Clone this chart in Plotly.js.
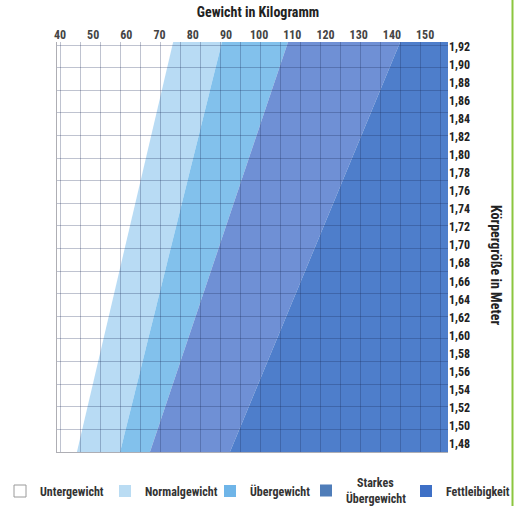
<!DOCTYPE html>
<html>
<head>
<meta charset="utf-8">
<script src="https://cdn.plot.ly/plotly-3.0.1.min.js"></script>
<style>html,body{margin:0;padding:0;background:#fff;}</style>
</head>
<body>
<div id="chart" style="width:515px;height:506px;"></div>
<script>
// ---- Data ----
const kategorien = ["Untergewicht", "Normalgewicht", "Übergewicht", "Starkes Übergewicht", "Fettleibigkeit"];
const legendeText = ["Untergewicht", "Normalgewicht", "Übergewicht", "\u00a0\u00a0\u00a0\u00a0Starkes<br>Übergewicht", "Fettleibigkeit"];
// Körpergröße (m) at the lower and upper edge of the chart
const groesse = [1.471, 1.925];
// Weight (kg) of each band boundary at those two heights
const grenzeLinks = [39.1, 39.1];
const grenzeNormal = [45.1, 74.1];
const grenzeUeber = [58.1, 88.8];
const grenzeStark = [67.1, 108.7];
const grenzeFett = [91.2, 142.5];
const grenzeRechts = [156.9, 156.9];
// tick labels
const gewichtTicks = [40, 50, 60, 70, 80, 90, 100, 110, 120, 130, 140, 150];
const groesseTicks = [1.48, 1.50, 1.52, 1.54, 1.56, 1.58, 1.60, 1.62, 1.64, 1.66, 1.68, 1.70, 1.72, 1.74, 1.76, 1.78, 1.80, 1.82, 1.84, 1.86, 1.88, 1.90, 1.92];

const bandFarben = ["#ffffff", "#b8dbf4", "#82c1ec", "#6f90d5", "#4e7ecb"];
const legendFarben = ["#ffffff", "#badcf3", "#6fb5e8", "#4f7db9", "#3e70c6"];
const grenzen = [grenzeLinks, grenzeNormal, grenzeUeber, grenzeStark, grenzeFett, grenzeRechts];
const legendIds = ["legend", "legend", "legend", "legend2", "legend3"];

const FONT = "'Liberation Sans Narrow', 'Arial Narrow', 'Roboto Condensed', 'Liberation Sans', sans-serif";

const traces = [];
kategorien.forEach((k, i) => {
  const a = grenzen[i], b = grenzen[i + 1];
  traces.push({
    type: "scatter", mode: "lines", fill: "toself",
    x: [a[0], a[1], b[1], b[0], a[0]],
    y: [groesse[0], groesse[1], groesse[1], groesse[0], groesse[0]],
    fillcolor: bandFarben[i], line: {width: 0, color: bandFarben[i]},
    hoverinfo: "skip", showlegend: false, name: k
  });
});
kategorien.forEach((k, i) => {
  traces.push({
    type: "scatter", mode: "markers", x: [null], y: [null],
    xaxis: "x2", yaxis: "y2",
    name: legendeText[i],
    legend: legendIds[i],
    marker: {symbol: "square", size: 12, color: legendFarben[i],
             line: {width: i === 0 ? 1 : 0, color: "#9a9a9a"}},
    showlegend: true
  });
});

const gridFarbe = "rgba(25,40,85,0.28)";
const xr = [grenzeLinks[0], grenzeRechts[0]];
const yr = groesse;

const legendBasis = {
  orientation: "h", xref: "container", yref: "container", xanchor: "left",
  y: 1 - 491 / 506, yanchor: "middle",
  font: {family: FONT, size: 12, color: "#333", weight: "bold"}, itemwidth: 30,
  entrywidthmode: "pixels", bgcolor: "rgba(0,0,0,0)", traceorder: "normal",
  itemclick: false, itemdoubleclick: false
};

const layout = {
  width: 515, height: 506,
  margin: {l: 57, r: 67, t: 42, b: 54, pad: 0},
  paper_bgcolor: "#ffffff", plot_bgcolor: "#ffffff",
  font: {family: FONT, size: 12, color: "#222"},
  title: {text: "<b>Gewicht in Kilogramm</b>", font: {family: FONT, size: 14, color: "#222"},
          xref: "container", yref: "container", x: 258/515, xanchor: "center", y: 1 - 12/506, yanchor: "middle"},
  xaxis: {range: xr, side: "top", anchor: "y", tickvals: gewichtTicks, ticktext: gewichtTicks.map(String),
          showgrid: false, zeroline: false, showline: false, ticks: "", automargin: false,
          tickfont: {family: FONT, size: 12, color: "#444", weight: "bold"}, fixedrange: true},
  yaxis: {range: yr, side: "right", anchor: "x", tickvals: groesseTicks,
          ticktext: groesseTicks.map(v => v.toFixed(2).replace(".", ",")),
          showgrid: false, zeroline: false, showline: false, ticks: "", automargin: false,
          tickfont: {family: FONT, size: 12, color: "#222", weight: "bold"}, fixedrange: true},
  xaxis2: {range: xr, overlaying: "x", anchor: "y2", side: "bottom", layer: "above traces",
           tick0: 46.03, dtick: 6.026, ticks: "inside", ticklen: 410, tickwidth: 1, tickcolor: gridFarbe,
           showticklabels: false, showgrid: false, zeroline: false, automargin: false,
           showline: true, linecolor: "rgba(120,120,130,0.6)", linewidth: 1, fixedrange: true},
  yaxis2: {range: yr, overlaying: "y", anchor: "x2", side: "left", layer: "above traces",
           tick0: groesse[0], dtick: 0.02503, ticks: "inside", ticklen: 391, tickwidth: 1, tickcolor: gridFarbe,
           showticklabels: false, showgrid: false, zeroline: false, automargin: false,
           showline: true, linecolor: "rgba(120,120,130,0.6)", linewidth: 1, fixedrange: true},
  showlegend: true,
  legend: Object.assign({}, legendBasis, {x: -4 / 515, entrywidth: 60}),
  legend2: Object.assign({}, legendBasis, {x: 306 / 515, entrywidth: 59}),
  legend3: Object.assign({}, legendBasis, {x: 406 / 515, entrywidth: 60}),
  annotations: [{
    text: "<b>Körpergröße in Meter</b>", textangle: 90, showarrow: false,
    xref: "paper", yref: "paper", x: (496 - 57) / 391, y: (452 - 265) / 410,
    xanchor: "center", yanchor: "middle", font: {family: FONT, size: 14, color: "#222"}
  }],
  shapes: [{
    type: "line", xref: "paper", yref: "paper", x0: (512.5 - 57) / 391, x1: (512.5 - 57) / 391,
    y0: -54 / 410, y1: 1 + 42 / 410, line: {color: "#8cc63f", width: 2}
  }]
};

Plotly.newPlot("chart", traces, layout, {displayModeBar: false, staticPlot: true});
</script>
</body>
</html>
